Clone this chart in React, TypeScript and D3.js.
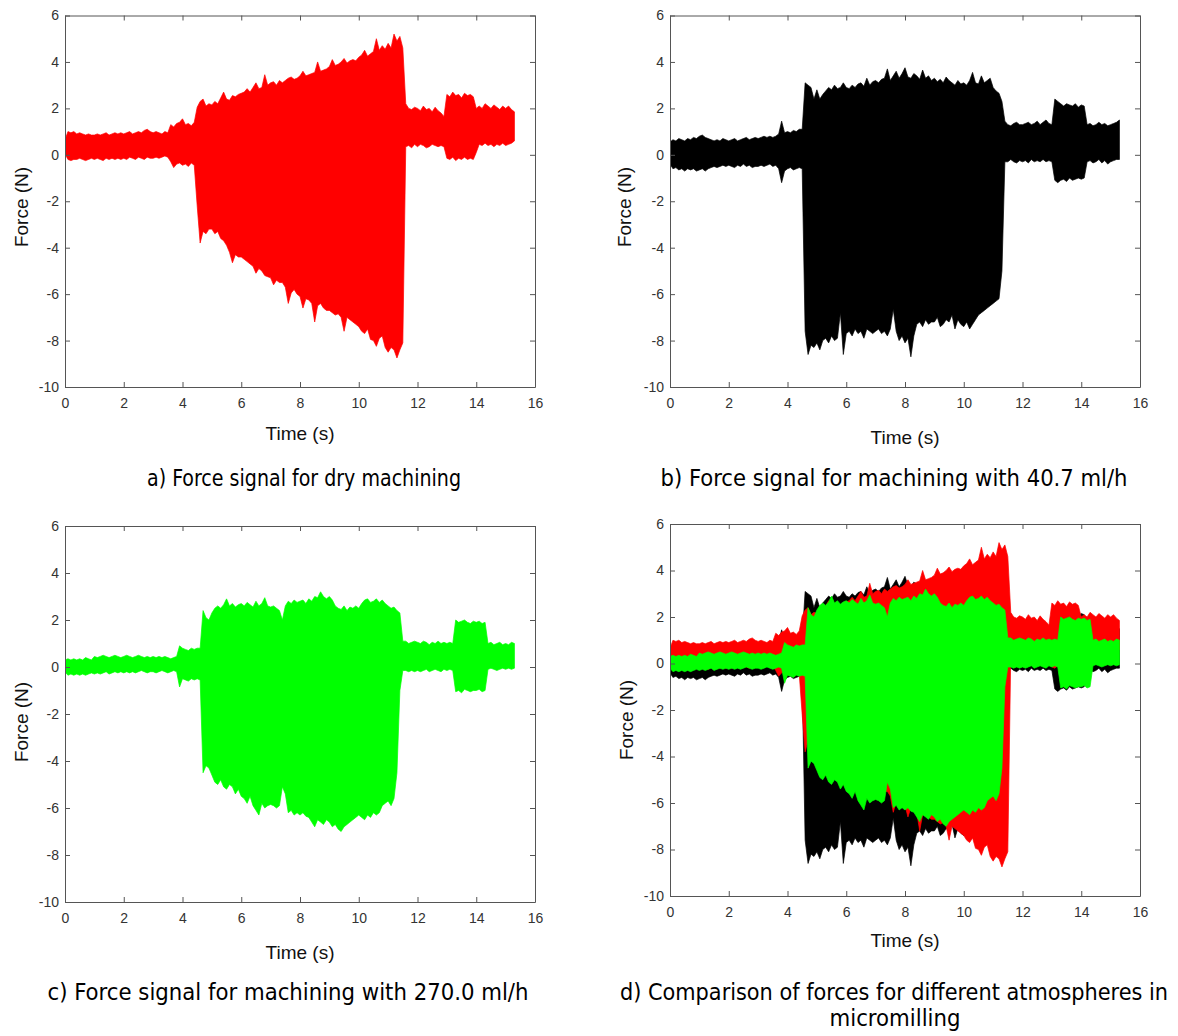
import React, { useEffect, useRef } from 'react';
import * as d3 from 'd3';

// envelope of each force record, read every 0.1 s from 0 to 15.3 s
const STEP = 0.1;
const X_TICKS = [0, 2, 4, 6, 8, 10, 12, 14, 16];
const Y_TICKS = [-10, -8, -6, -4, -2, 0, 2, 4, 6];

// dry machining (red)
const RED_HI = [
  0.65, 1.0, 0.95, 1.0, 0.9, 0.95, 0.9, 0.85, 0.9, 0.85,
  0.85, 0.9, 0.85, 0.9, 0.95, 0.85, 0.9, 0.95, 0.9, 0.95,
  0.9, 0.95, 1.0, 0.9, 0.95, 1.0, 0.95, 1.05, 1.1, 1.0,
  0.95, 1.0, 0.95, 0.9, 1.0, 0.95, 1.3, 1.2, 1.35, 1.4,
  1.55, 1.3, 1.35, 1.25, 1.4, 2.05, 2.3, 2.4, 2.1, 2.2,
  2.15, 2.3, 2.2, 2.45, 2.7, 2.4, 2.35, 2.55, 2.5, 2.6,
  2.65, 2.7, 2.85, 2.7, 2.9, 3.1, 2.85, 2.9, 3.45, 3.0,
  3.1, 3.15, 3.0, 3.2, 3.1, 3.2, 3.3, 3.35, 3.25, 3.3,
  3.4, 3.6, 3.4, 3.45, 3.5, 3.55, 4.0, 3.6, 3.65, 3.7,
  3.8, 4.1, 3.85, 3.9, 4.0, 4.15, 3.95, 4.05, 4.1, 4.05,
  4.2, 4.3, 4.5, 4.25, 4.35, 4.45, 5.0, 4.5, 4.7, 4.55,
  4.8, 4.6, 5.2, 4.9, 5.1, 4.6, 2.2, 2.0, 1.95, 2.05,
  2.0, 1.9, 2.1, 1.95, 2.0, 1.85, 2.05, 1.9, 1.8, 1.65,
  2.6, 2.5, 2.7, 2.55, 2.6, 2.45, 2.65, 2.55, 2.6, 2.5,
  2.0, 2.1, 2.0, 2.2, 2.1, 2.0, 2.15, 2.05, 1.95, 2.1,
  2.0, 2.1, 1.95, 1.85,
];
const RED_LO = [
  0.05, -0.2, -0.25, -0.2, -0.2, -0.15, -0.2, -0.25, -0.2, -0.15,
  -0.2, -0.15, -0.2, -0.25, -0.15, -0.2, -0.15, -0.2, -0.15, -0.2,
  -0.15, -0.2, -0.1, -0.15, -0.2, -0.1, -0.15, -0.2, -0.1, -0.15,
  -0.15, -0.1, -0.15, -0.1, -0.05, -0.1, -0.3, -0.55, -0.4, -0.35,
  -0.45, -0.4, -0.5, -0.35, -0.45, -2.2, -3.8, -3.3, -3.4, -3.2,
  -3.2, -3.4, -3.3, -3.6, -3.7, -3.9, -4.2, -4.65, -4.3, -4.4,
  -4.4, -4.5, -4.6, -4.7, -4.8, -5.1, -4.9, -5.0, -5.2, -5.25,
  -5.3, -5.6, -5.4, -5.5, -5.5, -5.7, -6.4, -5.95, -5.8, -6.0,
  -6.1, -6.6, -6.2, -6.25, -6.4, -7.2, -6.5, -6.4, -6.6, -6.7,
  -6.7, -6.8, -6.9, -6.85, -7.0, -7.6, -7.0, -7.1, -7.2, -7.3,
  -7.4, -7.6, -7.7, -7.5, -7.95, -8.0, -8.25, -7.9, -7.8, -8.3,
  -8.5, -8.3, -8.4, -8.75, -8.4, -8.1, 0.35, 0.4, 0.3, 0.45,
  0.35, 0.45, 0.4, 0.3, 0.35, 0.45, 0.4, 0.35, 0.4, 0.35,
  -0.15, -0.2, -0.1, -0.25, -0.15, -0.2, -0.1, -0.2, -0.15, -0.2,
  0.1, 0.45, 0.4, 0.5, 0.4, 0.45, 0.35, 0.45, 0.4, 0.5,
  0.4, 0.45, 0.5, 0.6,
];

// 40.7 ml/h (black)
const BLACK_HI = [
  0.55, 0.65, 0.6, 0.7, 0.65, 0.6, 0.7, 0.65, 0.75, 0.7,
  0.8, 0.85, 0.75, 0.7, 0.65, 0.6, 0.65, 0.6, 0.7, 0.65,
  0.6, 0.65, 0.7, 0.6, 0.65, 0.7, 0.75, 0.65, 0.7, 0.75,
  0.7, 0.75, 0.8, 0.75, 0.8, 0.75, 0.8, 0.9, 1.45, 0.95,
  1.0, 0.95, 1.05, 1.0, 1.1, 1.1, 3.1, 3.0, 2.9, 2.4,
  2.8, 2.4, 2.6, 2.75, 2.9, 2.8, 3.0, 2.85, 2.9, 3.1,
  2.9, 2.85, 3.0, 2.9, 3.05, 3.1, 2.95, 3.3, 3.0, 3.15,
  3.2, 3.1, 3.25, 3.3, 3.7, 3.2, 3.4, 3.6, 3.3, 3.5,
  3.75, 3.35, 3.3, 3.5, 3.4, 3.25, 3.65, 3.3, 3.4, 3.2,
  3.3, 3.15, 3.25, 3.1, 3.35, 3.2, 3.1, 3.0, 3.2, 3.05,
  3.1, 3.0, 3.2, 3.55, 3.1, 3.05, 3.4, 3.1, 3.2, 3.3,
  2.9, 2.75, 2.65, 2.3, 1.45, 1.3, 1.25, 1.35, 1.4, 1.3,
  1.3, 1.35, 1.4, 1.3, 1.35, 1.45, 1.3, 1.4, 1.5, 1.35,
  1.3, 2.4, 2.3, 2.2, 2.1, 2.2, 2.15, 2.1, 2.2, 2.05,
  2.15, 2.1, 1.3, 1.35, 1.25, 1.3, 1.4, 1.3, 1.35, 1.25,
  1.3, 1.35, 1.4, 1.5,
];
const BLACK_LO = [
  -0.4, -0.6, -0.55, -0.65, -0.6, -0.7, -0.6, -0.65, -0.6, -0.7,
  -0.65, -0.6, -0.7, -0.6, -0.55, -0.5, -0.55, -0.5, -0.45, -0.5,
  -0.45, -0.5, -0.55, -0.45, -0.5, -0.4, -0.5, -0.45, -0.55, -0.5,
  -0.5, -0.45, -0.5, -0.45, -0.4, -0.5, -0.45, -0.6, -1.2, -0.7,
  -0.6, -0.55, -0.65, -0.6, -0.55, -0.6, -7.6, -8.6, -8.2, -8.3,
  -8.1, -8.4, -8.0, -7.9, -8.1, -7.8, -8.0, -7.9, -6.8, -8.6,
  -7.7, -7.6, -7.8, -7.5, -7.7, -7.6, -7.9, -7.5, -7.6, -7.7,
  -7.6, -7.5, -7.7, -7.6, -7.8, -7.5, -6.65, -7.6, -8.0, -7.8,
  -8.1, -7.9, -8.7, -7.8, -7.3, -7.2, -7.4, -7.1, -7.3, -7.2,
  -7.2, -7.0, -7.4, -7.3, -7.1, -7.2, -6.9, -7.5, -7.1, -7.3,
  -7.4, -7.2, -7.5, -7.3, -7.1, -6.9, -6.8, -6.7, -6.6, -6.5,
  -6.4, -6.3, -6.2, -5.0, -0.3, -0.3, -0.2, -0.3, -0.35, -0.25,
  -0.3, -0.25, -0.35, -0.2, -0.3, -0.25, -0.3, -0.2, -0.3, -0.25,
  -0.3, -1.1, -1.2, -1.1, -1.05, -1.15, -1.0, -1.1, -1.05, -1.0,
  -1.05, -1.0, -0.3, -0.25, -0.35, -0.3, -0.2, -0.35, -0.25, -0.4,
  -0.3, -0.25, -0.2, -0.2,
];

// 270.0 ml/h (green)
const GREEN_HI = [
  0.3, 0.35, 0.3, 0.35, 0.3, 0.35, 0.3, 0.4, 0.35, 0.3,
  0.45, 0.4, 0.45, 0.5, 0.45, 0.4, 0.45, 0.5, 0.45, 0.4,
  0.45, 0.5, 0.45, 0.4, 0.45, 0.5, 0.45, 0.4, 0.45, 0.4,
  0.45, 0.4, 0.45, 0.4, 0.45, 0.4, 0.35, 0.4, 0.45, 0.9,
  0.8, 0.75, 0.7, 0.8, 0.75, 0.8, 0.8, 2.4, 2.1, 2.0,
  2.3, 2.5, 2.6, 2.5, 2.65, 2.9, 2.6, 2.7, 2.55, 2.65,
  2.7, 2.6, 2.75, 2.65, 2.55, 2.8, 2.6, 2.7, 2.95, 2.6,
  2.55, 2.6, 2.5, 2.4, 2.0, 2.6, 2.8, 2.7, 2.85, 2.75,
  2.8, 2.85, 2.7, 2.9, 2.8, 3.0, 2.95, 3.2, 3.0, 2.9,
  3.0, 2.85, 2.6, 2.5, 2.45, 2.6, 2.4, 2.55, 2.5, 2.6,
  2.5, 2.7, 2.85, 2.9, 2.75, 2.8, 2.9, 2.75, 2.85, 2.7,
  2.6, 2.5, 2.55, 2.4, 2.3, 1.1, 1.1, 1.0, 1.05, 1.1,
  1.05, 1.0, 1.1, 1.05, 0.95, 1.05, 1.0, 1.1, 1.0, 1.05,
  1.0, 1.05, 1.0, 2.0, 1.9, 1.95, 2.0, 1.9, 1.85, 1.95,
  1.9, 1.95, 1.85, 1.9, 1.0, 1.05, 0.95, 1.0, 1.05, 0.95,
  1.0, 0.95, 1.05, 1.0,
];
const GREEN_LO = [
  -0.2, -0.35, -0.3, -0.35, -0.3, -0.35, -0.3, -0.35, -0.3, -0.25,
  -0.3, -0.25, -0.3, -0.25, -0.2, -0.3, -0.25, -0.2, -0.25, -0.2,
  -0.25, -0.2, -0.25, -0.2, -0.25, -0.2, -0.15, -0.2, -0.25, -0.2,
  -0.2, -0.25, -0.2, -0.15, -0.2, -0.25, -0.2, -0.15, -0.2, -0.85,
  -0.5, -0.55, -0.6, -0.5, -0.55, -0.5, -0.55, -4.5, -4.2, -4.3,
  -4.6, -4.9, -5.0, -4.8, -5.1, -5.2, -5.0, -5.1, -5.4, -5.2,
  -5.5, -5.6, -5.8, -5.5, -5.9, -6.1, -6.3, -5.8, -6.0, -5.9,
  -5.85, -5.9, -6.0, -5.9, -5.1, -5.4, -6.2, -6.1, -6.3, -6.2,
  -6.3, -6.2, -6.35, -6.4, -6.6, -6.8, -6.5, -6.6, -6.7, -6.5,
  -6.6, -6.8, -6.7, -6.9, -7.0, -6.8, -6.7, -6.6, -6.5, -6.4,
  -6.3, -6.4, -6.5, -6.3, -6.4, -6.2, -6.3, -6.2, -5.9, -5.8,
  -5.7, -5.9, -5.6, -4.5, -1.0, -0.15, -0.15, -0.2, -0.15, -0.2,
  -0.15, -0.2, -0.15, -0.1, -0.2, -0.15, -0.1, -0.15, -0.2, -0.1,
  -0.15, -0.1, -0.15, -1.05, -1.0, -1.1, -0.95, -1.0, -1.05, -1.0,
  -1.0, -0.95, -1.05, -1.0, -0.1, -0.05, -0.1, -0.15, -0.1, -0.05,
  -0.1, -0.05, -0.1, -0.05,
];

const SERIES: Record<string, { hi: number[]; lo: number[]; color: string }> = {
  dry: { hi: RED_HI, lo: RED_LO, color: '#ff0000' },
  low: { hi: BLACK_HI, lo: BLACK_LO, color: '#000000' },
  high: { hi: GREEN_HI, lo: GREEN_LO, color: '#00ff00' },
};

const PANELS = [
  {
    left: 65, right: 535, top: 15.5, bottom: 387, series: ['dry'],
    forceX: 21, forceY: 207, timeY: 433,
    captions: [{ text: 'a) Force signal for dry machining', x: 304, y: 486, w: 314 }],
  },
  {
    left: 670, right: 1140, top: 15.5, bottom: 387, series: ['low'],
    forceX: 624, forceY: 207, timeY: 437,
    captions: [{ text: 'b) Force signal for machining with 40.7 ml/h', x: 894, y: 486, w: 467 }],
  },
  {
    left: 65, right: 535, top: 526, bottom: 902, series: ['high'],
    forceX: 21, forceY: 722, timeY: 952,
    captions: [{ text: 'c) Force signal for machining with 270.0 ml/h', x: 288, y: 1000, w: 481 }],
  },
  {
    left: 670, right: 1140, top: 524, bottom: 896, series: ['low', 'dry', 'high'],
    forceX: 626, forceY: 720, timeY: 940,
    captions: [
      { text: 'd) Comparison of forces for different atmospheres in', x: 894, y: 1000, w: 548 },
      { text: 'micromilling', x: 895, y: 1026, w: 131 },
    ],
  },
];

const FONT = '"Liberation Sans", Arial, sans-serif';

export default function App() {
  const ref = useRef<SVGSVGElement>(null);

  useEffect(() => {
    const svg = d3.select(ref.current);
    svg.selectAll('*').remove();

    PANELS.forEach((p, k) => {
      const x = d3.scaleLinear().domain([0, 16]).range([p.left, p.right]);
      const y = d3.scaleLinear().domain([-10, 6]).range([p.bottom, p.top]);

      svg.append('clipPath').attr('id', `clip${k}`)
        .append('rect')
        .attr('x', p.left).attr('y', p.top)
        .attr('width', p.right - p.left).attr('height', p.bottom - p.top);

      const plot = svg.append('g').attr('clip-path', `url(#clip${k})`);
      p.series.forEach(name => {
        const s = SERIES[name];
        const area = d3.area<number>()
          .x((_, i) => x(i * STEP))
          .y0((_, i) => y(s.lo[i]))
          .y1(d => y(d));
        plot.append('path')
          .datum(s.hi)
          .attr('d', area)
          .attr('fill', s.color)
          .attr('stroke', s.color)
          .attr('stroke-width', 0.7)
          .attr('stroke-linejoin', 'miter');
      });

      const styleAxis = (g: any) => {
        g.selectAll('.domain, .tick line').attr('stroke', '#555');
        g.selectAll('text')
          .attr('fill', '#333')
          .attr('font-size', 14)
          .attr('font-family', FONT);
      };
      const plain = (d: any) => String(d);

      svg.append('g')
        .attr('transform', `translate(0,${p.bottom})`)
        .call(d3.axisBottom(x).tickValues(X_TICKS).tickFormat(plain)
          .tickSizeInner(-5).tickSizeOuter(0).tickPadding(11))
        .call(styleAxis);
      svg.append('g')
        .attr('transform', `translate(${p.left},0)`)
        .call(d3.axisLeft(y).tickValues(Y_TICKS).tickFormat(plain)
          .tickSizeInner(-5).tickSizeOuter(0).tickPadding(6))
        .call(styleAxis);
      svg.append('g')
        .attr('transform', `translate(0,${p.top})`)
        .call(d3.axisTop(x).tickValues(X_TICKS).tickSizeInner(-5).tickSizeOuter(0).tickFormat(() => ''))
        .call(styleAxis);
      svg.append('g')
        .attr('transform', `translate(${p.right},0)`)
        .call(d3.axisRight(y).tickValues(Y_TICKS).tickSizeInner(-5).tickSizeOuter(0).tickFormat(() => ''))
        .call(styleAxis);

      svg.append('text')
        .attr('transform', `translate(${p.forceX},${p.forceY}) rotate(-90)`)
        .attr('dy', '0.35em')
        .attr('text-anchor', 'middle')
        .attr('font-family', FONT)
        .attr('font-size', 19)
        .attr('fill', '#111')
        .text('Force (N)');
      svg.append('text')
        .attr('x', (p.left + p.right) / 2)
        .attr('y', p.timeY)
        .attr('dy', '0.35em')
        .attr('text-anchor', 'middle')
        .attr('font-family', FONT)
        .attr('font-size', 19)
        .attr('fill', '#111')
        .text('Time (s)');

      p.captions.forEach(c => {
        svg.append('text')
          .attr('x', c.x - c.w / 2)
          .attr('y', c.y)
          .attr('textLength', c.w)
          .attr('lengthAdjust', 'spacingAndGlyphs')
          .attr('font-family', '"Liberation Sans Narrow", "DejaVu Sans Condensed", sans-serif')
          .attr('font-size', 23)
          .attr('fill', '#000')
          .text(c.text);
      });
    });
  }, []);

  return (
    <svg
      ref={ref}
      width={1178}
      height={1036}
      style={{ position: 'absolute', left: 0, top: 0, background: '#fff' }}
    />
  );
}
